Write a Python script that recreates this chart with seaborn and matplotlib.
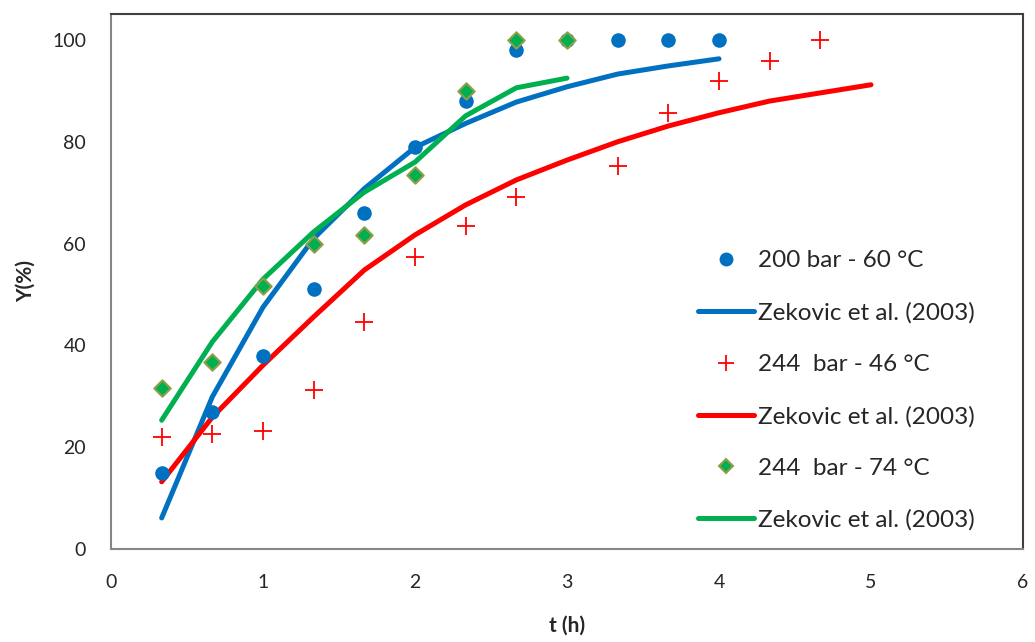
import numpy as np
import pandas as pd
import matplotlib
matplotlib.use("Agg")
import matplotlib.pyplot as plt
from matplotlib.lines import Line2D
import seaborn as sns

# ---- data ----
t_blue_pts = [1/3, 2/3, 1, 4/3, 5/3, 2, 7/3, 8/3, 3, 10/3, 11/3, 4]
y_blue_pts = [15.0, 27.0, 38.0, 51.0, 66.0, 79.0, 88.0, 98.0, 100, 100, 100, 100]
t_blue_line = [1/3, 2/3, 1, 4/3, 5/3, 2, 7/3, 8/3, 3, 10/3, 11/3, 4]
y_blue_line = [6.1, 29.9, 47.5, 61.0, 70.8, 78.9, 83.6, 87.8, 90.8, 93.3, 94.9, 96.3]

t_red_pts = [1/3, 2/3, 1, 4/3, 5/3, 2, 7/3, 8/3, 10/3, 11/3, 4, 13/3, 14/3]
y_red_pts = [22.1, 22.6, 23.1, 31.2, 44.6, 57.4, 63.5, 69.2, 75.3, 85.7, 91.9, 95.9, 100]
t_red_line = [1/3, 2/3, 1, 4/3, 5/3, 2, 7/3, 8/3, 3, 10/3, 11/3, 4, 13/3, 14/3, 5]
y_red_line = [13.2, 25.9, 36.1, 45.6, 54.8, 61.7, 67.6, 72.5, 76.4, 80.0, 83.1, 85.7, 88.0, 89.6, 91.2]

t_green_pts = [1/3, 2/3, 1, 4/3, 5/3, 2, 7/3, 8/3, 3]
y_green_pts = [31.6, 36.7, 51.7, 60.0, 61.7, 73.5, 90.0, 100, 100]
t_green_line = [1/3, 2/3, 1, 4/3, 5/3, 2, 7/3, 8/3, 3]
y_green_line = [25.3, 40.7, 53.0, 62.3, 70.1, 76.0, 85.1, 90.6, 92.5]

labels = ["200 bar - 60 °C", "Zekovic et al. (2003)",
          "244  bar - 46 °C", "Zekovic et al. (2003)",
          "244  bar - 74 °C", "Zekovic et al. (2003)"]
x_ticks = [0, 1, 2, 3, 4, 5, 6]
y_ticks = [0, 20, 40, 60, 80, 100]

BLUE = "#0070C0"
RED = "#FF0000"
GREEN = "#00B050"
OLIVE = "#8E9F4A"

sns.set_style("white")
plt.rcParams['font.family'] = ['Lato', 'DejaVu Sans']

fig = plt.figure(figsize=(10.35, 6.42), dpi=100)
ax = fig.add_axes([111/1035, 1-549/642, (1023-111)/1035, (549-14)/642])

lw = 3.6
sns.lineplot(x=t_blue_line, y=y_blue_line, ax=ax, color=BLUE, lw=lw, sort=False,
             solid_capstyle='round')
sns.lineplot(x=t_red_line, y=y_red_line, ax=ax, color=RED, lw=lw, sort=False,
             solid_capstyle='round')
sns.lineplot(x=t_green_line, y=y_green_line, ax=ax, color=GREEN, lw=lw, sort=False,
             solid_capstyle='round')

sns.scatterplot(x=t_blue_pts, y=y_blue_pts, ax=ax, color=BLUE, marker='o', s=110,
                edgecolor=BLUE, linewidth=0, zorder=5)
sns.scatterplot(x=t_red_pts, y=y_red_pts, ax=ax, color=RED, marker='+', s=150,
                linewidth=1.3, zorder=5)
sns.scatterplot(x=t_green_pts, y=y_green_pts, ax=ax, color=GREEN, marker='D', s=70,
                edgecolor=OLIVE, linewidth=1.5, zorder=6)

ax.set_xlim(0, 6)
ax.set_ylim(0, 105.1)
ax.set_xticks(x_ticks)
ax.set_yticks(y_ticks)
ax.tick_params(axis='both', length=0, labelsize=14)
ax.tick_params(axis='x', pad=18)
ax.tick_params(axis='y', pad=18)
for s in ax.spines.values():
    s.set_visible(True)
    s.set_color('#868686')
    s.set_linewidth(1.5)
ax.spines['top'].set_color('#404040')
ax.spines['right'].set_color('#404040')

ax.set_xlabel("t (h)", fontsize=15, fontweight='bold', labelpad=18)
ax.set_ylabel("Y(%)", fontsize=15, fontweight='bold', labelpad=12)

handles = [
    Line2D([], [], color=BLUE, marker='o', ls='none', markersize=10, markeredgewidth=0),
    Line2D([], [], color=BLUE, lw=lw, solid_capstyle='round'),
    Line2D([], [], color=RED, marker='+', ls='none', markersize=11, markeredgewidth=1.3),
    Line2D([], [], color=RED, lw=lw, solid_capstyle='round'),
    Line2D([], [], color=GREEN, marker='D', ls='none', markersize=7,
           markeredgecolor=OLIVE, markeredgewidth=1.5),
    Line2D([], [], color=GREEN, lw=lw, solid_capstyle='round'),
]
leg = ax.legend(handles, labels, loc='lower left',
                bbox_to_anchor=((698-111)/912, (549-531)/535),
                frameon=False, fontsize=17.5, handlelength=2.3, handletextpad=0.15,
                labelspacing=1.26, borderaxespad=0.0, borderpad=0.0)

fig.savefig("out.png", dpi=100)
